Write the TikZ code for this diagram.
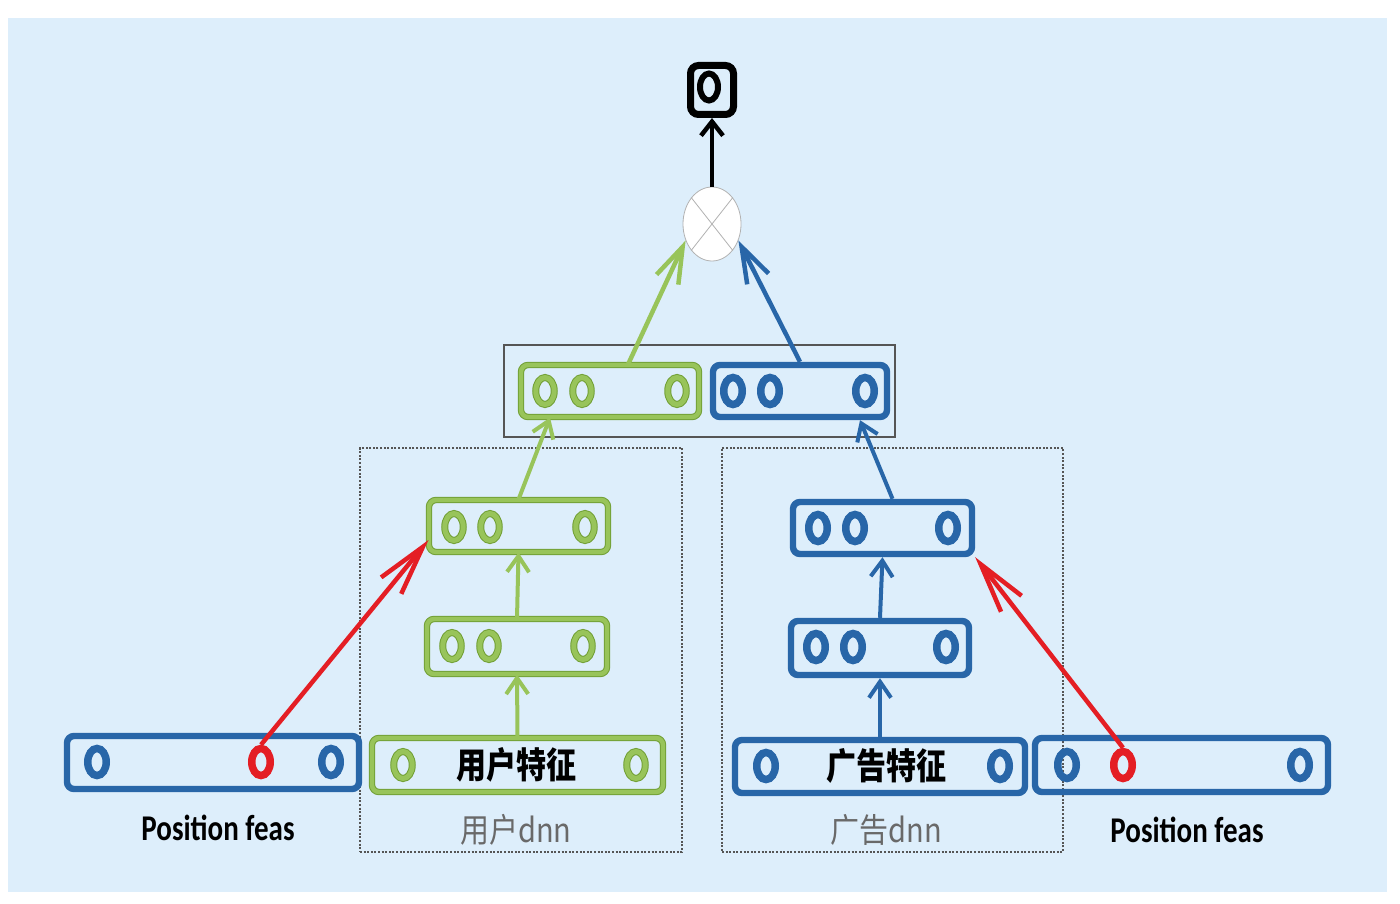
\documentclass[tikz,border=0pt]{standalone}
\usepackage{fontspec}
\usepackage{graphicx}
\setmainfont{Carlito}
\newfontfamily\cjk{Noto Sans CJK SC}
\usetikzlibrary{arrows.meta,shapes.geometric,calc}
\definecolor{bg}{RGB}{221,238,251}
\definecolor{G}{RGB}{152,196,90}
\definecolor{Gd}{RGB}{114,160,54}
\definecolor{B}{RGB}{40,102,168}
\definecolor{R}{RGB}{228,30,36}
\definecolor{GR}{RGB}{105,105,105}
\definecolor{DG}{RGB}{85,85,85}
\begin{document}
\begin{tikzpicture}[x=1pt,y=-1pt,
  box/.style={rectangle, rounded corners=7pt, inner sep=0pt},
  gbox/.style={box, draw=Gd, double=G, double distance=4.4pt, line width=1pt},
  bbox/.style={box, draw=B, line width=6.4pt},
  ov/.style={ellipse, inner sep=0pt, minimum width=18.5pt, minimum height=27pt},
  gov/.style={ov, draw=Gd, double=G, double distance=5pt, line width=1pt},
  bov/.style={ov, draw=B, line width=7.5pt},
  rov/.style={ov, draw=R, line width=7.5pt},
  gar/.style={draw=G, line width=4pt, -{Straight Barb[length=16pt,width=22pt]}},
  bar/.style={draw=B, line width=4pt, -{Straight Barb[length=16pt,width=22pt]}},
  glong/.style={draw=G, line width=4.5pt, -{Straight Barb[length=36pt,width=24pt]}},
  blong/.style={draw=B, line width=4.5pt, -{Straight Barb[length=36pt,width=24pt]}},
  rar/.style={draw=R, line width=4.5pt, -{Straight Barb[length=50pt,width=26pt]}},
  kar/.style={draw=black, line width=4.5pt, -{Straight Barb[length=14pt,width=22pt]}},
  dbox/.style={draw=DG, dash pattern=on 2pt off 1.6pt, line width=1.3pt, inner sep=0pt},
  lab/.style={inner sep=0pt},
]
\fill[white] (0,0) rectangle (1400,904);
\fill[bg] (8,18) rectangle (1387,892);
\useasboundingbox (0,0) rectangle (1400,904);

% dashed groups
\node[dbox, minimum width=322pt, minimum height=404pt] (dL) at (521,650) {};
\node[dbox, minimum width=341pt, minimum height=404pt] (dR) at (892.5,650) {};

% concat frame
\node[draw=DG, line width=1.3pt, inner sep=0pt, minimum width=391pt, minimum height=92pt] (cat) at (699.5,391) {};

% concat boxes
\node[gbox, minimum width=178pt, minimum height=52pt] (gC) at (610,391) {};
\node[gov] (gC1) at (545,391) {};
\node[gov] (gC2) at (582,391) {};
\node[gov] (gC3) at (677,391) {};
\node[bbox, minimum width=174pt, minimum height=52pt] (bC) at (800,391) {};
\node[bov] (bC1) at (733,391) {};
\node[bov] (bC2) at (770,391) {};
\node[bov] (bC3) at (865,391) {};

% user dnn
\node[gbox, minimum width=179pt, minimum height=52pt] (gL2) at (518.5,526) {};
\node[gov] (gL21) at (454,527) {};
\node[gov] (gL22) at (490,527) {};
\node[gov] (gL23) at (585,527) {};
\node[gbox, minimum width=180pt, minimum height=55pt] (gL1) at (517,646.5) {};
\node[gov] (gL11) at (452,646) {};
\node[gov] (gL12) at (489,646) {};
\node[gov] (gL13) at (583,646) {};
\node[gbox, minimum width=291pt, minimum height=54pt] (gIn) at (517.5,765) {};
\node[gov] (gIn1) at (403,765) {};
\node[gov] (gIn2) at (636,765) {};
\node[lab] (gInT) at (516,765) {\scalebox{1}[1.2]{\cjk\bfseries\fontsize{30}{32}\selectfont 用户特征}};

% ad dnn
\node[bbox, minimum width=179pt, minimum height=52pt] (bL2) at (882.5,528) {};
\node[bov] (bL21) at (818,528) {};
\node[bov] (bL22) at (855,528) {};
\node[bov] (bL23) at (948,528) {};
\node[bbox, minimum width=178pt, minimum height=54pt] (bL1) at (880,648) {};
\node[bov] (bL11) at (816,647) {};
\node[bov] (bL12) at (853,647) {};
\node[bov] (bL13) at (946,647) {};
\node[bbox, minimum width=290pt, minimum height=53pt] (bIn) at (880,766.5) {};
\node[bov] (bIn1) at (766,766) {};
\node[bov] (bIn2) at (1000,766) {};
\node[lab] (bInT) at (886,766) {\scalebox{1}[1.2]{\cjk\bfseries\fontsize{30}{32}\selectfont 广告特征}};

% position features
\node[bbox, minimum width=292pt, minimum height=53pt] (pL) at (213,762.5) {};
\node[bov] (pL1) at (97,762) {};
\node[rov] (pLr) at (261,762) {};
\node[bov] (pL3) at (331,762) {};
\node[bbox, minimum width=293pt, minimum height=54pt] (pR) at (1181.5,765) {};
\node[bov] (pR1) at (1067,765) {};
\node[rov] (pRr) at (1123,765) {};
\node[bov] (pR3) at (1300,765) {};

% output and product
\node[box, draw=black, line width=7pt, rounded corners=8pt, minimum width=43pt, minimum height=49pt] (out) at (712,90) {};
\node[ov, draw=black, line width=6pt, minimum width=18pt, minimum height=27pt] (outo) at (709,87) {};
\node[ellipse, draw=gray!60, fill=white, line width=0.8pt, inner sep=0pt, minimum width=58pt, minimum height=74pt] (mul) at (712,224) {};
\draw[gray!60, line width=0.8pt] (mul.north west) -- (mul.south east);
\draw[gray!60, line width=0.8pt] (mul.north east) -- (mul.south west);

% labels
\node[lab] (lp1) at (218,828) {\scalebox{1}[1.25]{\bfseries\fontsize{29}{30}\selectfont Position feas}};
\node[lab] (lp2) at (1187,830) {\scalebox{1}[1.25]{\bfseries\fontsize{29}{30}\selectfont Position feas}};
\node[lab, text=GR] (ld1) at (516,830) {\scalebox{1}[1.15]{\cjk\fontsize{29}{30}\selectfont 用户dnn}};
\node[lab, text=GR] (ld2) at (886,830) {\scalebox{1}[1.15]{\cjk\fontsize{29}{30}\selectfont 广告dnn}};

% connectors
\draw[kar] (mul.north) -- (out.south);
\draw[glong] ([xshift=18pt]gC.north) -- (mul.212);
\draw[blong] (bC.north) -- (mul.328);
\draw[gar] (gIn.north) -- (gL1.south);
\draw[gar] (gL1.north) -- (gL2.south);
\draw[gar] (gL2.north) -- ([xshift=-60pt]gC.south);
\draw[bar] (bIn.north) -- (bL1.south);
\draw[bar] (bL1.north) -- (bL2.south);
\draw[bar] ([xshift=10pt]bL2.north) -- ([xshift=60pt]bC.south);
\draw[rar] (pLr.north) -- ([yshift=-14pt]gL2.west);
\draw[rar] (pRr.north) -- (bL2.south east);
\end{tikzpicture}
\end{document}
